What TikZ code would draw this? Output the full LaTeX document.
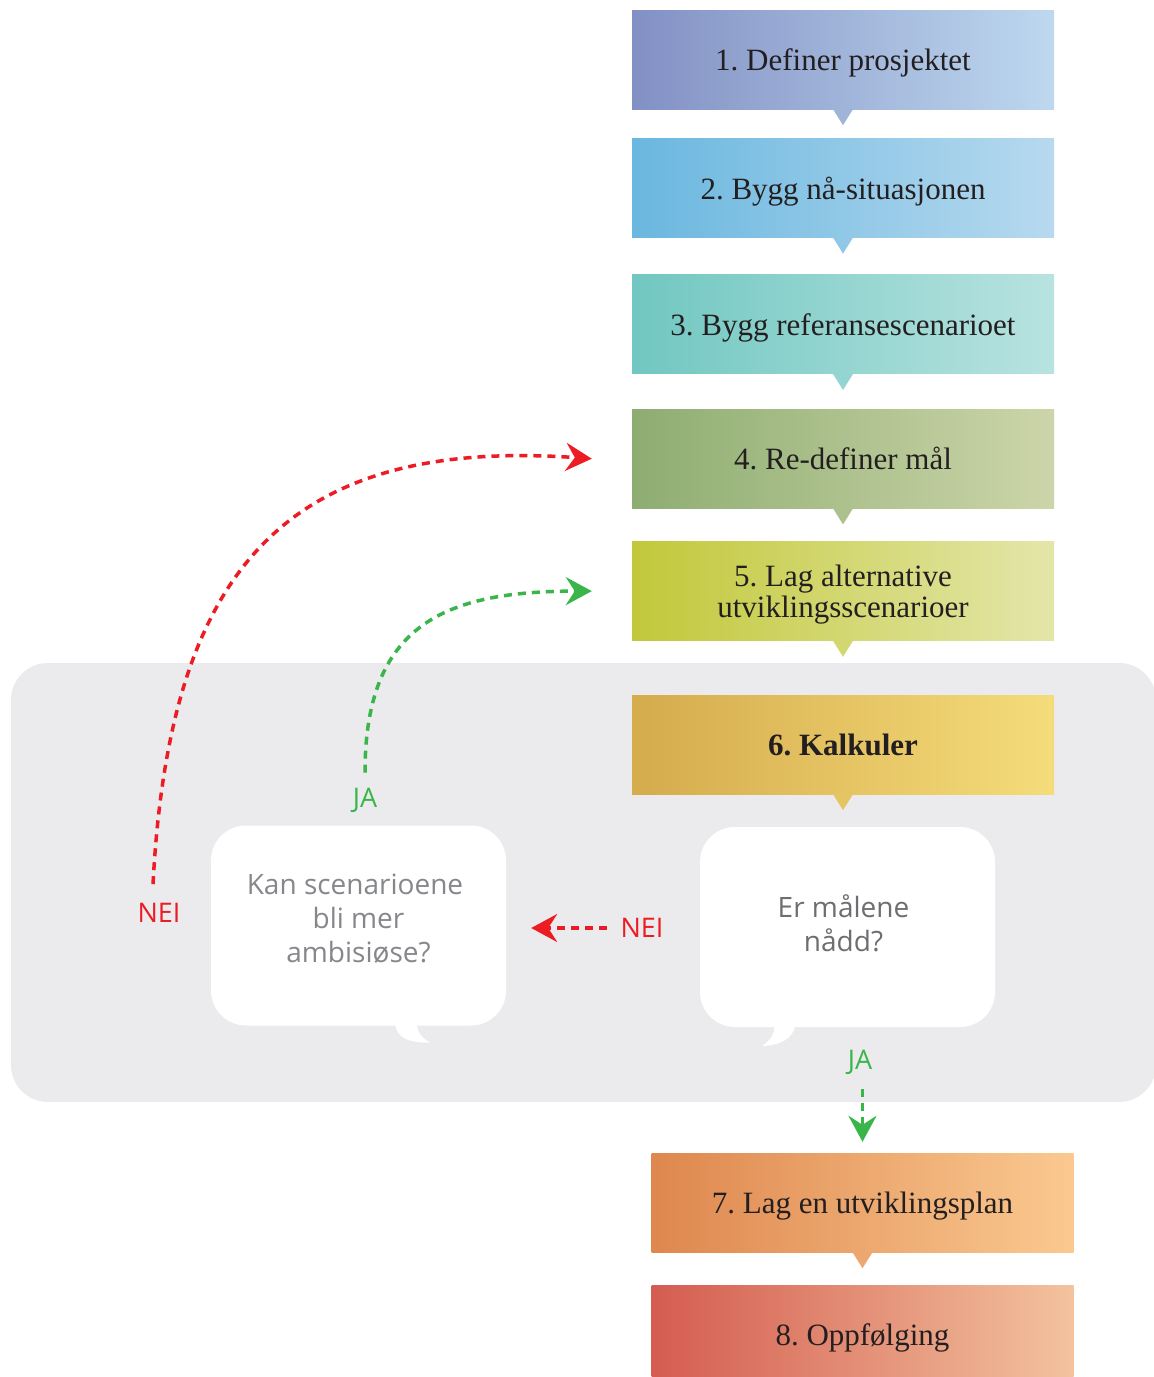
\documentclass[tikz,border=0pt]{standalone}
\usepackage{fontspec}
\setmainfont{Liberation Serif}
\newfontfamily\opensans{Open Sans}
\usepackage{xcolor}
\usepackage{tikz}
\usetikzlibrary{arrows.meta,positioning,calc}
\frenchspacing
\definecolor{tekst}{HTML}{231F20}
\definecolor{panelgra}{HTML}{EBEBED}
\definecolor{neirod}{HTML}{ED1C24}
\definecolor{jagronn}{HTML}{39B54A}
\definecolor{kangra}{HTML}{86878B}
\definecolor{ergra}{HTML}{6D6E71}
\definecolor{b1l}{HTML}{8290C4}\definecolor{b1r}{HTML}{BED8EF}
\definecolor{b2l}{HTML}{6AB7DF}\definecolor{b2r}{HTML}{B7D9EF}
\definecolor{b3l}{HTML}{71C7C1}\definecolor{b3r}{HTML}{B8E3E0}
\definecolor{b4l}{HTML}{8EAD72}\definecolor{b4r}{HTML}{CCD5A9}
\definecolor{b5l}{HTML}{C2C83A}\definecolor{b5r}{HTML}{E4E6A9}
\definecolor{b6l}{HTML}{D5AB4C}\definecolor{b6r}{HTML}{F5DC7A}
\definecolor{b7l}{HTML}{DE874E}\definecolor{b7r}{HTML}{FAC990}
\definecolor{b8l}{HTML}{D45C50}\definecolor{b8r}{HTML}{F3C39E}
\tikzset{
    steg/.style={
        rectangle,
        inner sep=0pt,
        align=center,
        minimum width=422pt,
        minimum height=99pt,
        text depth=0pt,
        text=tekst,
        font=\fontsize{31}{31}\selectfont
    },
    panel/.style={
        rectangle,
        fill=panelgra,
        rounded corners=37pt,
        minimum width=1145pt,
        minimum height=439pt
    },
    boble/.style={
        rectangle,
        fill=white,
        rounded corners=35pt,
        align=center,
        minimum width=295pt,
        minimum height=200pt,
        font=\opensans\fontsize{28}{34}\selectfont
    },
    etikett/.style={inner sep=0pt, font=\opensans\fontsize{27}{30}\selectfont},
    stiplet/.style={
        line width=3.5pt,
        dash pattern=on 8pt off 6pt,
        -{Stealth[length=26pt, width=28pt, inset=9pt]}
    },
    japil/.style={stiplet, color=jagronn},
    neipil/.style={stiplet, color=neirod}
}

\begin{document}
\begin{tikzpicture}[x=1pt, y=-1pt]
    \useasboundingbox (0,0) rectangle (1154,1377);
    \fill[white] (0,0) rectangle (1154,1377);

    % grå ramme rundt beregningssløyfen
    \node[panel] (ramme) at (583.5,882.5) {};

    \node[steg, left color=b1l, right color=b1r] (prosjekt) at (843,59.5) {1. Definer prosjektet};
    \node[steg, left color=b2l, right color=b2r, below=29pt of prosjekt] (naa) {2. Bygg nå-situasjonen};
    \node[steg, left color=b3l, right color=b3r, below=37pt of naa] (referanse) {3. Bygg referansescenarioet};
    \node[steg, left color=b4l, right color=b4r, below=35pt of referanse] (maal) {4. Re-definer mål};
    \node[steg, left color=b5l, right color=b5r, below=33pt of maal] (alternativ)
        {5. Lag alternative\\ utviklingsscenarioer};
    \node[steg, left color=b6l, right color=b6r, below=54pt of alternativ] (kalkuler)
        {\bfseries 6. Kalkuler};
    \node[steg, left color=b7l, right color=b7r] (plan) at (862.5,1202.5) {7. Lag en utviklingsplan};
    \node[steg, left color=b8l, right color=b8r, below=33pt of plan] (oppfolging) {8. Oppfølging};

    % små spisser under boksene
    \foreach \n/\l/\r in {prosjekt/b1l/b1r, naa/b2l/b2r, referanse/b3l/b3r, maal/b4l/b4r,
                          alternativ/b5l/b5r, kalkuler/b6l/b6r, plan/b7l/b7r}
        \fill[\l!50!\r] ([xshift=-10pt]\n.south) -- ([xshift=10pt]\n.south)
            -- ([yshift=-16pt]\n.south) -- cycle;

    % snakkebobler
    \node[boble, text=kangra] (ambisios) at (358.5,925.5)
        {\hspace*{-7pt}Kan scenarioene\\ bli mer\\ ambisiøse?\\[-20pt]\mbox{}};
    \fill[white, shift={(ambisios.south)}] (36.5,-1) .. controls (39,11) and (47,17) .. (71.5,17)
        .. controls (62,11) and (58.5,6) .. (58.5,-1) -- cycle;
    \node[boble, text=ergra] (naadd) at (847.5,927)
        {\hspace*{-8pt}Er målene\\ \hspace*{-8pt}nådd?\\[-26pt]\mbox{}};
    \fill[white, shift={(naadd.south)}] (-52.5,-1) .. controls (-55,12) and (-68,18) .. (-85.5,19)
        .. controls (-76,12) and (-73,6) .. (-73,-1) -- cycle;

    \node[etikett, text=jagronn] (jaVenstre) at (365,800) {JA};
    \node[etikett, text=neirod] (neiVenstre) at (159,913) {NEI};
    \node[etikett, text=neirod] (neiMidt) at (642,928) {NEI};
    \node[etikett, text=jagronn] (jaNede) at (860,1062) {JA};

    \draw[neipil] ([xshift=-6pt, yshift=19pt]neiVenstre.north)
        to[out=87, in=176, looseness=1.3] ([xshift=-40pt]maal.west);
    \draw[japil] ([yshift=15pt]jaVenstre.north)
        to[out=90, in=180, looseness=1.3] ([xshift=-40pt]alternativ.west);
    \draw[neipil, shorten <=13pt, shorten >=25pt] (neiMidt.west) -- (neiMidt.west -| ambisios.east);
    \draw[japil, shorten <=15pt, shorten >=11pt] (jaNede.south -| plan.north) -- (plan.north);
\end{tikzpicture}
\end{document}
